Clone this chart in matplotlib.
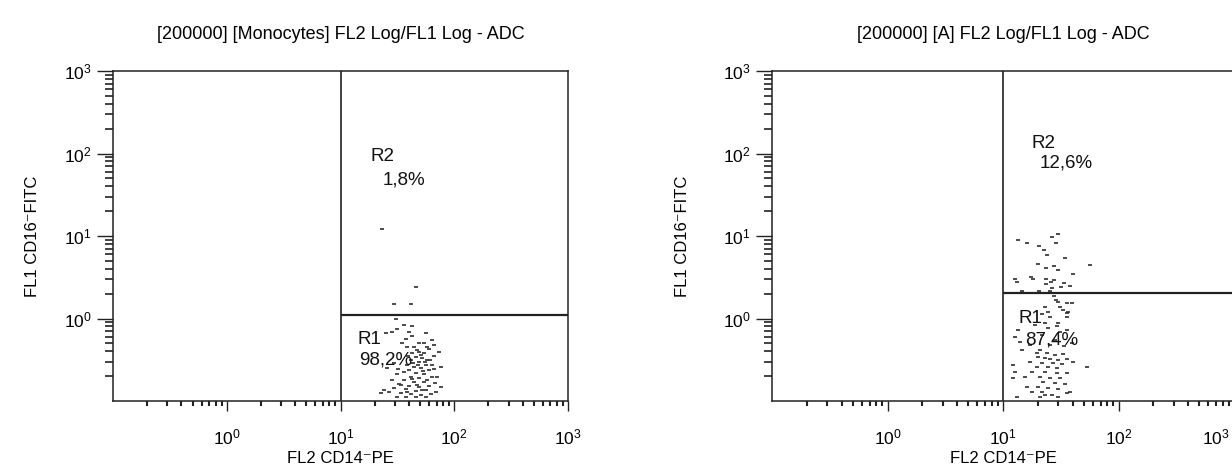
import math
import matplotlib
matplotlib.use("Agg")
import matplotlib.pyplot as plt
from matplotlib.ticker import LogLocator, FuncFormatter, NullFormatter
from matplotlib.transforms import ScaledTranslation

plt.rcParams['font.family'] = ['Liberation Sans', 'DejaVu Sans']
plt.rcParams['mathtext.fontset'] = 'custom'
plt.rcParams['mathtext.rm'] = 'Liberation Sans'

# ---------------- data ----------------
titles = ["[200000] [Monocytes] FL2 Log/FL1 Log - ADC", "[200000] [A] FL2 Log/FL1 Log - ADC"]
xlabel = "FL2 CD14\u207bPE"
ylabel = "FL1 CD16\u207bFITC"

# Monocytes panel events (FL2, FL1)
mono_x = [23.4, 46.4, 29.8, 42, 31, 36.4, 42.8, 31.6, 28.6, 25.3, 40.3, 56.8, 42.8, 37.9, 49.3, 54.6, 35,
          66.8, 38.7, 44.6, 60.4, 49.3, 54.6, 73.8, 42.8, 46.4, 52.4, 58, 66.8, 42, 49.3, 56.8, 64.1, 44.6,
          51.4, 40.3, 60.4, 36.4, 46.4, 54.6, 31.6, 42, 49.3, 64.1, 28.6, 36.4, 44.6, 54.6, 34.3, 40.3, 49.3,
          60.4, 29.8, 37.9, 46.4, 56.8, 26.9, 34.3, 42, 51.4, 62.9, 37.9, 46.4, 56.8, 24.3, 31.6, 22.9, 58,
          64.1, 29.8, 25.8, 76.9, 71, 76.9, 69.5, 47.5, 51.4, 39.5, 55.7, 43.7, 61.6, 48.3, 38.7, 53.5, 42.8,
          58, 33, 47.5, 52.4, 38.7, 68, 32.3, 66.8]
mono_y = [12.2, 2.41, 1.50, 1.50, 0.99, 0.83, 0.81, 0.75, 0.69, 0.67, 0.69, 0.67, 0.61, 0.56, 0.50, 0.50, 0.50,
          0.48, 0.45, 0.45, 0.43, 0.39, 0.38, 0.39, 0.38, 0.34, 0.33, 0.31, 0.35, 0.31, 0.30, 0.27, 0.27, 0.26,
          0.25, 0.24, 0.24, 0.225, 0.22, 0.21, 0.21, 0.195, 0.19, 0.195, 0.18, 0.18, 0.17, 0.17, 0.156, 0.152,
          0.148, 0.152, 0.144, 0.14, 0.132, 0.136, 0.128, 0.125, 0.122, 0.118, 0.122, 0.112, 0.112, 0.112,
          0.136, 0.112, 0.125, 0.45, 0.55, 0.29, 0.25, 0.26, 0.195, 0.148, 0.128, 0.41, 0.36, 0.35, 0.30,
          0.29, 0.31, 0.27, 0.27, 0.23, 0.185, 0.18, 0.16, 0.156, 0.136, 0.128, 0.165, 0.245, 0.245]

# Gate A panel events (FL2, FL1)
a_x = [13.5, 16.1, 29.9, 26.6, 28.8, 20.5, 22.6, 24.0, 34.4, 20.1, 27.7, 23.6, 29.9, 56.6, 40.4, 12.7, 17.5,
       18.2, 23.6, 13.2, 27.7, 26.0, 23.6, 33.8, 38.0, 31.8, 26.6, 14.6, 20.5, 25.5,
       27.7, 28.8, 29.9, 35.8, 39.6, 23.1, 31.2, 33.1, 24.5, 36.6, 21.8, 35.8, 25.5, 35.8, 23.1, 29.9, 29.4,
       35.8, 13.5, 24.5, 31.2, 12.7, 14.0, 39.6, 14.6, 20.9, 19.7, 24.0, 28.2, 33.1, 20.1, 23.1, 25.5, 29.9,
       35.8, 17.1, 21.8, 27.1, 32.4, 40.4, 12.2, 19.7, 24.5, 29.4, 53.4, 12.7, 17.8, 23.1, 29.4, 35.8, 15.5,
       20.9, 25.5, 31.2, 12.2, 22.2, 28.2, 34.4, 16.1, 20.1, 24.5, 29.9, 17.8, 21.8, 35.8, 23.1, 26.6, 13.2,
       20.9, 29.9, 38.0, 19.0, 21.8, 28.2, 33.8, 25.5, 17.1]
a_y = [8.9, 8.2, 10.6, 9.7, 8.2, 7.6, 6.8, 5.9, 5.4, 4.6, 4.3, 4.1, 3.9, 4.4, 3.5, 3.0, 3.2,
       3.0, 3.0, 2.8, 2.9, 2.8, 2.6, 2.7, 2.5, 2.4, 2.34, 2.15, 2.15, 2.15,
       1.87, 1.68, 1.58, 1.54, 1.54, 1.38, 1.38, 1.27, 1.20, 1.20, 1.13, 1.17, 1.04, 1.04, 0.88, 0.88, 0.81,
       0.73, 0.73, 0.77, 0.69, 0.60, 0.52, 0.50, 0.415, 0.415, 0.38, 0.38, 0.36, 0.37, 0.34, 0.33, 0.32, 0.31,
       0.32, 0.30, 0.29, 0.29, 0.28, 0.30, 0.27, 0.26, 0.26, 0.25, 0.26, 0.225, 0.225, 0.225, 0.22, 0.22, 0.195,
       0.195, 0.19, 0.19, 0.19, 0.17, 0.165, 0.16, 0.148, 0.148, 0.144, 0.14, 0.128, 0.128, 0.125, 0.118, 0.118,
       0.112, 0.112, 0.112, 0.128, 0.83, 0.63, 0.55, 0.46, 0.48, 0.48]

gate_x = [10, 10]          # vertical gate position per panel
gate_y = [1.10, 2.02]      # horizontal gate position per panel
r1_labels = [("R1", "98,2%"), ("R1", "87,4%")]
r2_labels = [("R2", "1,8%"), ("R2", "12,6%")]
r1_pos = [((14.1, 0.556), (14.7, 0.314)), ((13.5, 1.01), (15.5, 0.55))]
r2_pos = [((18.3, 90.7), (23.4, 47.7)), ((17.8, 134), (20.9, 76.7))]

# ---------------- figure ----------------
W, H = 1232, 468
fig = plt.figure(figsize=(W / 100, H / 100), dpi=100)
fig.patch.set_facecolor("white")

axes_px = [(113, 568), (772, 1234)]
top_px, bot_px = 71, 401
ylab_x = [-0.160, -0.177]

panels = [(mono_x, mono_y), (a_x, a_y)]
fmt = FuncFormatter(lambda v, p: r"$\mathregular{10^{%d}}$" % round(math.log10(v)))

for i, (l, r) in enumerate(axes_px):
    ax = fig.add_axes([l / W, 1 - bot_px / H, (r - l) / W, (bot_px - top_px) / H])
    ax.set_xscale("log")
    ax.set_yscale("log")
    ax.set_xlim(0.1, 1000)
    ax.set_ylim(0.1, 1000)
    xs, ys = panels[i]
    ax.plot(xs, ys, linestyle="none", marker="_", markersize=2.4, markeredgewidth=1.2,
            color="#2e2e2e")
    # gates
    ax.axvline(gate_x[i], color="#222222", lw=1.2)
    ax.plot([gate_x[i], 1000], [gate_y[i], gate_y[i]], color="#222222", lw=1.6, solid_capstyle="butt")

    for (txt, pos) in zip(r1_labels[i], r1_pos[i]):
        ax.text(pos[0], pos[1], txt, fontsize=13.5, ha="left", va="center", color="#111111")
    for (txt, pos) in zip(r2_labels[i], r2_pos[i]):
        ax.text(pos[0], pos[1], txt, fontsize=13.5, ha="left", va="center", color="#111111")

    for s in ax.spines.values():
        s.set_linewidth(1.1)
        s.set_color("#222222")

    for axis in (ax.xaxis, ax.yaxis):
        axis.set_minor_locator(LogLocator(base=10, subs=range(2, 10), numticks=20))
        axis.set_minor_formatter(NullFormatter())
    ax.set_xticks([1, 10, 100, 1000])
    ax.set_yticks([1, 10, 100, 1000])
    ax.xaxis.set_major_formatter(fmt)
    ax.yaxis.set_major_formatter(fmt)
    ax.tick_params(axis="x", which="major", direction="out", length=7, width=1.0, labelsize=12.5, pad=12, color="#222222")
    ax.tick_params(axis="x", which="minor", direction="out", length=3.5, width=1.5, color="#222222")
    ax.tick_params(axis="y", which="major", direction="out", length=11.5, width=1.0, labelsize=12.5, pad=4, color="#222222")
    ax.tick_params(axis="y", which="minor", direction="out", length=5.5, width=1.2, color="#222222")

    ax.set_title(titles[i], fontsize=13, pad=23)
    ax.set_xlabel(xlabel, fontsize=12, labelpad=3)
    ax.set_ylabel(ylabel, fontsize=12)
    ax.yaxis.set_label_coords(ylab_x[i], 0.5)

    if i == 1:
        # the last x label sits at the image edge; nudge it inward so it stays readable
        last = ax.get_xticklabels()[-1]
        last.set_transform(last.get_transform() + ScaledTranslation(-18 / 100, 0, fig.dpi_scale_trans))

fig.savefig("out.png", dpi=100, facecolor="white")
